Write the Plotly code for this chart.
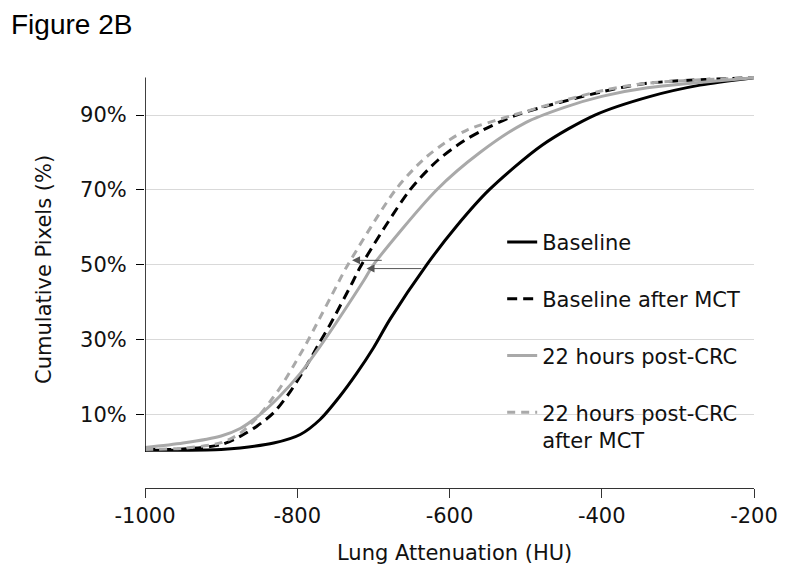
import plotly.graph_objects as go

# ---- data ----
base_x = [-1000, -950, -900, -875, -831, -796, -770, -744, -722, -700, -678, -630, -590, -548, -478, -409, -336, -271, -200]
base_y = [0.5, 0.5, 0.7, 1.1, 2.4, 4.7, 8.7, 14.9, 21, 27.8, 35.5, 50, 60.5, 70, 82, 90, 95, 98, 100]

bmct_x = [-1000, -950, -900, -875, -853, -831, -809, -788, -770, -757, -727, -717, -652, -615, -582, -556, -512, -400, -340, -200]
bmct_y = [0.7, 0.8, 2.0, 4.2, 6.9, 10.5, 16.2, 23, 29.5, 34, 45.5, 49.5, 70, 78, 83, 86, 90, 96.2, 98.5, 100]

crc_x = [-1000, -950, -900, -875, -849, -823, -796, -770, -744, -712, -700, -617, -560, -500, -450, -400, -340, -200]
crc_y = [1.2, 2.4, 4.3, 6.3, 10, 14.9, 21, 28.2, 36, 46, 50, 70, 80, 88, 92, 95, 97.3, 100]

cmct_x = [-1000, -950, -900, -875, -849, -832, -823, -805, -788, -775, -748, -735, -671, -635, -603, -577, -516, -400, -340, -200]
cmct_y = [0.7, 1.0, 2.5, 5, 10, 14.5, 17, 23, 29, 34, 44.5, 49.5, 70, 78, 83, 86, 90, 96.5, 98.5, 100]

series_names = ["Baseline", "Baseline after MCT", "22 hours post-CRC", "22 hours post-CRC<br>after MCT"]

x_ticks = [-1000, -800, -600, -400, -200]
x_labels = ["-1000", "-800", "-600", "-400", "-200"]
y_ticks = [10, 30, 50, 70, 90]
y_labels = ["10%", "30%", "50%", "70%", "90%"]

# arrows: (tail_x, tail_y, head_x, head_y)
arrow_lower = (-635, 49, -709, 49)
arrow_upper = (-687, 51.2, -728, 51.2)

FONT = "DejaVu Sans, Verdana, sans-serif"
GREY = "#A9A9A9"

fig = go.Figure()
styles = [
    dict(color="black", width=3, dash="solid"),
    dict(color="black", width=3, dash="10px,6px"),
    dict(color=GREY, width=3, dash="solid"),
    dict(color=GREY, width=3, dash="8px,6px"),
]
data = [(base_x, base_y), (bmct_x, bmct_y), (crc_x, crc_y), (cmct_x, cmct_y)]
for i, ((xs, ys), nm, st) in enumerate(zip(data, series_names, styles)):
    fig.add_trace(go.Scatter(x=xs, y=ys, mode="lines", name=nm, legendgroup=f"g{i}",
                             line=dict(shape="spline", smoothing=0.8, **st)))

# white area behind legend (gridlines stop there)
fig.add_shape(type="rect", xref="x", yref="y", x0=-560, x1=-199, y0=0, y1=60,
              fillcolor="white", line=dict(width=0), layer="below")
# y axis line (from 0 to 100 only)
fig.add_shape(type="line", xref="x", yref="y", x0=-1000, x1=-1000, y0=0, y1=100,
              line=dict(color="black", width=1.5))

for (tx, ty, hx, hy) in [arrow_lower, arrow_upper]:
    fig.add_annotation(x=hx, y=hy, ax=tx, ay=ty, xref="x", yref="y", axref="x", ayref="y",
                       text="", showarrow=True, arrowhead=2, arrowsize=1.6, arrowwidth=1,
                       arrowcolor="#555")

fig.add_annotation(text="Figure 2B", xref="paper", yref="paper", x=-0.2217, y=1 + 67 / 413.5,
                   xanchor="left", yanchor="top", showarrow=False, borderpad=0,
                   font=dict(family="Liberation Sans, Arial, sans-serif", size=28, color="black"))
fig.add_annotation(text="Lung Attenuation (HU)", xref="paper", yref="paper", x=0.509, y=-0.158,
                   xanchor="center", yanchor="middle", showarrow=False,
                   font=dict(family=FONT, size=21, color="#111"))
fig.add_annotation(text="Cumulative Pixels (%)", xref="paper", yref="paper", x=0, xshift=-101,
                   y=0.528, textangle=-90, xanchor="center", yanchor="middle", showarrow=False,
                   font=dict(family=FONT, size=21, color="#111"))

fig.update_layout(
    width=781, height=575, autosize=False,
    margin=dict(l=137, r=35, t=67, b=94.5),
    paper_bgcolor="white", plot_bgcolor="white",
    font=dict(family=FONT, size=21, color="#111"),
    showlegend=True,
    legend=dict(x=0.5865, y=0.6445, xanchor="left", yanchor="top", bgcolor="rgba(0,0,0,0)",
                tracegroupgap=26.5, valign="top", font=dict(family=FONT, size=21, color="#111")),
    xaxis=dict(range=[-1000, -200], tickvals=x_ticks, ticktext=x_labels, ticks="outside", ticklen=9,
               tickcolor="#333", tickwidth=1.3, showline=True, linecolor="#333", linewidth=1.3,
               showgrid=False, zeroline=False, tickfont=dict(size=21), automargin=False),
    yaxis=dict(range=[-9.6, 100.7], tickvals=y_ticks, ticktext=y_labels, ticks="outside", ticklen=8,
               tickcolor="black", tickwidth=1.3, showline=False, showgrid=True,
               gridcolor="#d9d9d9", gridwidth=1, zeroline=False, tickfont=dict(size=21),
               ticklabelstandoff=5, automargin=False),
)

fig.write_html("out.html")
